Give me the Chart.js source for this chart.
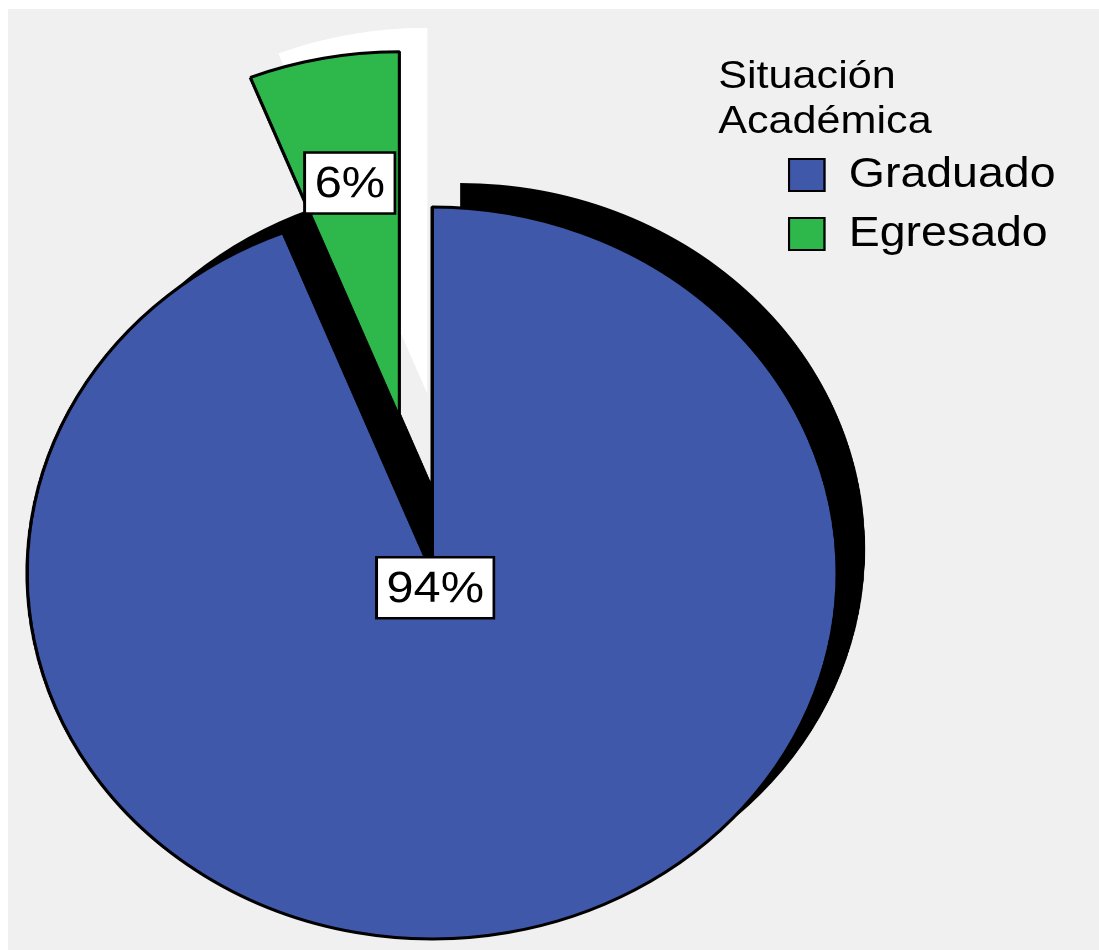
<!DOCTYPE html>
<html>
<head>
<meta charset="utf-8">
<script src="https://cdn.jsdelivr.net/npm/chart.js"></script>
<style>
  html, body { margin: 0; padding: 0; width: 1099px; height: 950px; background: #ffffff; overflow: hidden; }
  #bg { position: absolute; left: 8px; top: 9px; width: 1091px; height: 941px; background: #f0f0f0; }
  /* the whole picture is stretched sideways, text included */
  #stage { position: absolute; left: 0; top: 0; width: 993px; height: 950px; transform: scaleX(1.1066); transform-origin: 0 0; }
  #stage canvas { position: absolute; left: 0; top: 0; }
  .lg { position: absolute; font-family: "Liberation Sans", Arial, sans-serif; color: #000; white-space: nowrap; }
  .lg-title { left: 649px; top: 52px; font-size: 39px; line-height: 45px; }
  .lg-box { width: 34px; height: 34px; box-sizing: border-box; border: 2.5px solid #000; left: 712px; }
  .lg-text { left: 767px; font-size: 42px; line-height: 42px; }
</style>
</head>
<body>
<div id="bg"></div>
<div id="stage">
  <canvas id="pieChart" width="993" height="950"></canvas>
  <div id="legend"></div>
</div>
<script>
// values
const labels = ['Graduado', 'Egresado'];
const percents = [94, 6];
const legendTitle = ['Situación', 'Académica'];

// looks
const sliceColors = ['#3f58a9', '#2eb84b'];
const shadowColors = ['#000000', '#ffffff'];
const explode = [0, 158];       // px pulled out along the slice middle
const labelReach = [15, 239];   // px from the (pulled out) slice tip to the label
const SHADOW_DX = 25.3, SHADOW_DY = -24;
const LABEL_FONT = '44px "Liberation Sans", Arial, sans-serif';

// legend, built from the same arrays
const legendEl = document.getElementById('legend');
legendEl.innerHTML = '<div class="lg lg-title">' + legendTitle.join('<br>') + '</div>';
const rowTops = [158, 217];
labels.forEach((name, i) => {
    let box = document.createElement('div');
    box.className = 'lg lg-box';
    box.style.top = rowTops[i] + 'px';
    box.style.background = sliceColors[i];
    legendEl.appendChild(box);
    let txt = document.createElement('div');
    txt.className = 'lg lg-text';
    txt.style.top = (rowTops[i] - 6) + 'px';
    txt.textContent = name;
    legendEl.appendChild(txt);
});

const explodedPie = {
    id: 'explodedPie',
    beforeDatasetsDraw(chart) {
        const ctx = chart.ctx;
        const arcs = chart.getDatasetMeta(0).data;
        const pull = (arc, i, extra) => {
            const mid = (arc.startAngle + arc.endAngle) / 2;
            const d = explode[i] + (extra || 0);
            return { x: Math.cos(mid) * d, y: Math.sin(mid) * d };
        };

        // 1. shadows
        arcs.forEach((arc, i) => {
            const p = pull(arc, i);
            ctx.save();
            ctx.translate(p.x + SHADOW_DX, p.y + SHADOW_DY);
            const ghost = Object.create(arc);
            ghost.options = Object.assign({}, arc.options, {
                backgroundColor: shadowColors[i], borderColor: shadowColors[i], borderWidth: 0
            });
            arc.draw.call(ghost, ctx);
            ctx.restore();
        });

        // 2. slices
        arcs.forEach((arc, i) => {
            const p = pull(arc, i);
            ctx.save();
            ctx.translate(p.x, p.y);
            arc.draw(ctx);
            ctx.restore();
        });

        // 3. percent boxes
        const total = percents.reduce((a, b) => a + b, 0);
        ctx.save();
        ctx.font = LABEL_FONT;
        ctx.textAlign = 'center';
        ctx.textBaseline = 'middle';
        arcs.forEach((arc, i) => {
            const p = pull(arc, i, labelReach[i]);
            const x = arc.x + p.x, y = arc.y + p.y;
            const text = Math.round(percents[i] / total * 100) + '%';
            const w = ctx.measureText(text).width + 18, h = 61;
            ctx.fillStyle = '#ffffff';
            ctx.fillRect(x - w / 2, y - h / 2, w, h);
            ctx.lineWidth = 2.5;
            ctx.strokeStyle = '#000000';
            ctx.strokeRect(x - w / 2, y - h / 2, w, h);
            ctx.fillStyle = '#000000';
            ctx.fillText(text, x, y + 2);
        });
        ctx.restore();
        return false;
    }
};

new Chart(document.getElementById('pieChart'), {
    type: 'pie',
    data: {
        labels: labels,
        datasets: [{
            data: percents,
            backgroundColor: sliceColors,
            borderColor: '#000000',
            borderWidth: 3
        }]
    },
    options: {
        responsive: false,
        devicePixelRatio: 2,
        animation: false,
        radius: 366,
        layout: { padding: { left: 0, right: 212, top: 196, bottom: 0 } },
        plugins: { legend: { display: false }, tooltip: { enabled: false } }
    },
    plugins: [explodedPie]
});
</script>
</body>
</html>
